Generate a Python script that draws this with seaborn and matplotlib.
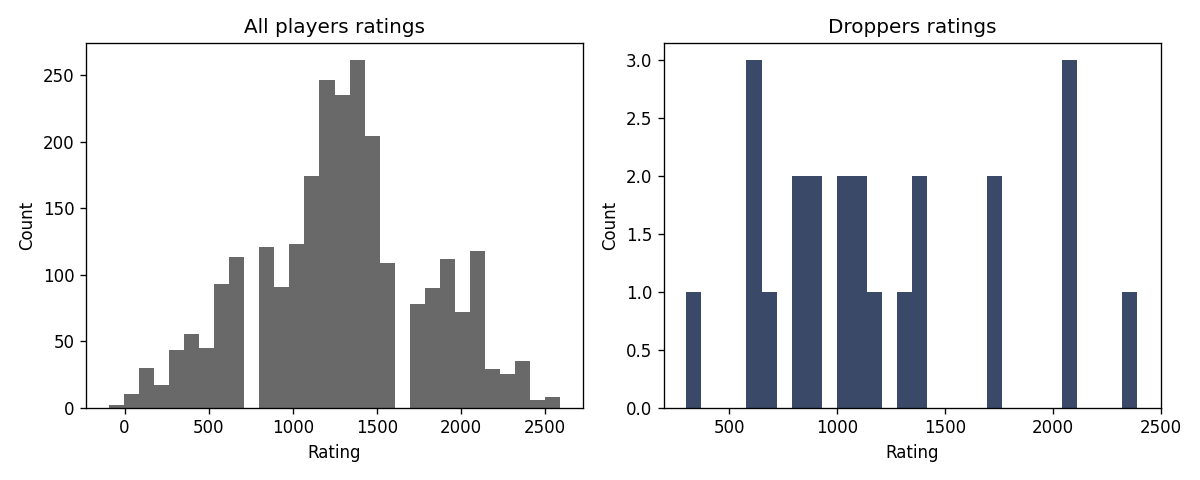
import numpy as np
import pandas as pd
import matplotlib
matplotlib.use("Agg")
import matplotlib.pyplot as plt
import seaborn as sns

# All players: 30 equal bins between these limits
all_lo, all_hi = -95, 2592
all_counts = [2, 10, 30, 17, 43, 55, 45, 93, 113, 0,
              121, 91, 123, 174, 246, 235, 261, 204, 109, 0,
              78, 90, 112, 72, 118, 29, 25, 35, 6, 8]

# Droppers: 30 equal bins between these limits
drop_lo, drop_hi = 300, 2391
drop_counts = [1, 0, 0, 0, 3, 1, 0, 2, 2, 0,
               2, 2, 1, 0, 1, 2, 0, 0, 0, 0,
               2, 0, 0, 0, 0, 3, 0, 0, 0, 1]

titles = ["All players ratings", "Droppers ratings"]
colors = ["#696969", "#3b4968"]

fig, axes = plt.subplots(1, 2, figsize=(10, 4), dpi=120)

for ax, (lo, hi, counts), title, color in zip(
        axes,
        [(all_lo, all_hi, all_counts), (drop_lo, drop_hi, drop_counts)],
        titles, colors):
    edges = np.linspace(lo, hi, len(counts) + 1)
    centers = (edges[:-1] + edges[1:]) / 2
    df = pd.DataFrame({"Rating": centers, "w": counts})
    sns.histplot(data=df, x="Rating", weights="w", bins=edges.tolist(), ax=ax,
                 color=color, alpha=1, linewidth=0)
    ax.set_title(title)
    ax.set_xlabel("Rating")
    ax.set_ylabel("Count")

axes[0].set_xticks([0, 500, 1000, 1500, 2000, 2500])
axes[1].set_xticks([500, 1000, 1500, 2000, 2500])

fig.tight_layout()
fig.savefig("out.png", dpi=120)
